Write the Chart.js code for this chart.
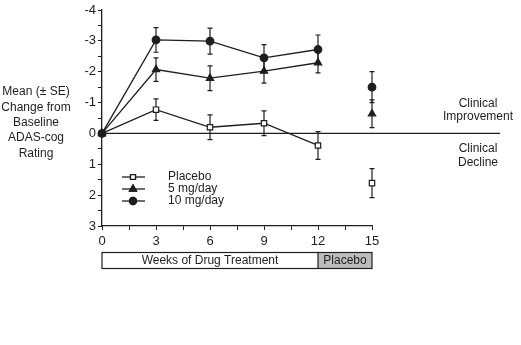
<!DOCTYPE html>
<html>
<head>
<meta charset="utf-8">
<script src="https://cdn.jsdelivr.net/npm/chart.js@4.4.1/dist/chart.umd.min.js"></script>
<style>
    html, body { margin: 0; padding: 0; background: #fff; }
    #wrap { width: 521px; height: 345px; }
</style>
</head>
<body>
<div id="wrap"><canvas id="adasChart" width="521" height="345"></canvas></div>
<script>
// Chart data
const weeks = [0, 3, 6, 9, 12, 15];
const placebo = [0, -0.77, -0.2, -0.33, 0.39, 1.61];
const placeboSE = [0, 0.35, 0.4, 0.4, 0.45, 0.47];
const mg5 = [0, -2.07, -1.79, -2.02, -2.29, -0.64];
const mg5SE = [0, 0.38, 0.4, 0.39, 0.33, 0.45];
const mg10 = [0, -3.03, -2.99, -2.45, -2.72, -1.5];
const mg10SE = [0, 0.4, 0.42, 0.43, 0.47, 0.5];
const seriesNames = ['Placebo', '5 mg/day', '10 mg/day'];
const xTickLabels = ['0', '3', '6', '9', '12', '15'];
const yTickLabels = ['-4', '-3', '-2', '-1', '0', '1', '2', '3'];
const yTitleLines = ['Mean (\u00b1 SE)', 'Change from', 'Baseline', 'ADAS-cog', 'Rating'];
const periodLabels = ['Weeks of Drug Treatment', 'Placebo'];

const INK = '#1e1e1e';
const FONT = '"Liberation Sans Narrow", "Liberation Sans", Arial, sans-serif';

function toPoints(values) {
    return weeks.map((w, i) => ({ x: w, y: values[i] }));
}

// week 15 is a separate follow-up point, not joined to the line
const noJoinLast = {
    borderColor: ctx => ctx.p1DataIndex === weeks.length - 1 ? 'rgba(0,0,0,0)' : undefined
};

function makeDataset(label, values, se, pointStyle, fill, order) {
    return {
        label: label,
        data: toPoints(values),
        se: se,
        order: order,
        clip: false,
        borderColor: INK,
        borderWidth: 1.3,
        pointStyle: pointStyle,
        pointRadius: pointStyle === 'triangle' ? 4.2 : 3.8,
        pointBackgroundColor: fill,
        pointBorderColor: INK,
        pointBorderWidth: 1.2,
        segment: noJoinLast,
        tension: 0
    };
}

// error bars, zero line, legend, side labels and the bottom period bar
const decorPlugin = {
    id: 'decor',
    beforeDatasetsDraw(chart) {
        const { ctx, scales: { x, y }, chartArea } = chart;
        const y0 = y.getPixelForValue(0);
        ctx.save();
        ctx.strokeStyle = INK;
        ctx.lineWidth = 1.2;
        ctx.beginPath();
        ctx.moveTo(chartArea.left, y0);
        ctx.lineTo(chartArea.right + 128, y0);
        ctx.stroke();

        // error bars
        ctx.lineWidth = 1.2;
        chart.data.datasets.forEach(ds => {
            ds.data.forEach((p, i) => {
                const se = ds.se[i];
                if (!se) return;
                const px = x.getPixelForValue(p.x);
                const top = y.getPixelForValue(p.y - se);
                const bot = y.getPixelForValue(p.y + se);
                ctx.beginPath();
                ctx.moveTo(px, top);
                ctx.lineTo(px, bot);
                ctx.moveTo(px - 2.5, top);
                ctx.lineTo(px + 2.5, top);
                ctx.moveTo(px - 2.5, bot);
                ctx.lineTo(px + 2.5, bot);
                ctx.stroke();
            });
        });
        ctx.restore();
    },
    afterDraw(chart) {
        const { ctx, scales: { x, y }, chartArea } = chart;
        const y0 = y.getPixelForValue(0);
        ctx.save();
        ctx.fillStyle = INK;
        ctx.font = '12px ' + FONT;
        ctx.textAlign = 'center';
        ctx.textBaseline = 'middle';

        // y title
        yTitleLines.forEach((t, i) => ctx.fillText(t, 36, 92 + i * 15.3));

        // clinical labels
        const cx = chartArea.right + 106;
        ctx.fillText('Clinical', cx, y0 - 30);
        ctx.fillText('Improvement', cx, y0 - 17);
        ctx.fillText('Clinical', cx, y0 + 15);
        ctx.fillText('Decline', cx, y0 + 29);

        // legend
        ctx.textAlign = 'left';
        chart.data.datasets.forEach((ds, i) => {
            const ly = 177 + i * 12;
            ctx.strokeStyle = INK;
            ctx.lineWidth = 1.3;
            ctx.beginPath();
            ctx.moveTo(122, ly);
            ctx.lineTo(145, ly);
            ctx.stroke();
            Chart.helpers.drawPoint(ctx, {
                pointStyle: ds.pointStyle,
                radius: ds.pointStyle === 'triangle' ? 4 : 3.5,
                borderWidth: 1.2
            }, 133, ly);
            ctx.fillStyle = ds.pointBackgroundColor;
            ctx.fill();
            ctx.stroke();
            ctx.fillStyle = INK;
            ctx.fillText(ds.label, 168, ly);
        });

        // period bar under x axis
        const xl = x.getPixelForValue(weeks[0]);
        const xm = x.getPixelForValue(weeks[weeks.length - 2]);
        const xr = x.getPixelForValue(weeks[weeks.length - 1]);
        const top = chartArea.bottom + 26.5;
        const h = 16;
        ctx.fillStyle = '#bdbdbd';
        ctx.fillRect(xm, top, xr - xm, h);
        ctx.strokeStyle = INK;
        ctx.lineWidth = 1.2;
        ctx.strokeRect(xl, top, xr - xl, h);
        ctx.beginPath();
        ctx.moveTo(xm, top);
        ctx.lineTo(xm, top + h);
        ctx.stroke();
        ctx.fillStyle = INK;
        ctx.textAlign = 'center';
        ctx.fillText(periodLabels[0], (xl + xm) / 2, top + h / 2 + 0.5);
        ctx.fillText(periodLabels[1], (xm + xr) / 2, top + h / 2 + 0.5);
        ctx.restore();
    }
};

const ctx = document.getElementById('adasChart').getContext('2d');
new Chart(ctx, {
    type: 'line',
    data: {
        datasets: [
            makeDataset(seriesNames[0], placebo, placeboSE, 'rect', '#ffffff', 3),
            makeDataset(seriesNames[1], mg5, mg5SE, 'triangle', INK, 2),
            makeDataset(seriesNames[2], mg10, mg10SE, 'circle', INK, 1)
        ]
    },
    options: {
        responsive: false,
        animation: false,
        layout: { padding: { left: 78, top: 10, right: 149, bottom: 89 } },
        plugins: {
            legend: { display: false },
            tooltip: { enabled: false }
        },
        scales: {
            x: {
                type: 'linear',
                min: 0,
                max: 15,
                afterFit: s => { s.height = 30; },
                afterBuildTicks: s => {
                    s.ticks = [];
                    for (let v = 0; v <= 15; v += 1.5) s.ticks.push({ value: v });
                },
                border: { color: INK, width: 1.3 },
                grid: { drawOnChartArea: false, tickLength: 4, color: INK },
                ticks: {
                    autoSkip: false,
                    maxRotation: 0,
                    padding: 4,
                    color: INK,
                    font: { family: FONT, size: 13 },
                    callback: v => (v % 3 === 0 ? xTickLabels[v / 3] : '')
                }
            },
            y: {
                min: -4,
                max: 3,
                reverse: true,
                afterFit: s => { s.width = 24; },
                afterBuildTicks: s => {
                    s.ticks = [];
                    for (let v = -4; v <= 3; v += 0.5) s.ticks.push({ value: v });
                },
                border: { color: INK, width: 1.3 },
                grid: { drawOnChartArea: false, tickLength: 4, color: INK },
                ticks: {
                    autoSkip: false,
                    padding: 2,
                    color: INK,
                    font: { family: FONT, size: 13 },
                    callback: v => (Number.isInteger(v) ? yTickLabels[v + 4] : '')
                }
            }
        }
    },
    plugins: [decorPlugin]
});
</script>
</body>
</html>
